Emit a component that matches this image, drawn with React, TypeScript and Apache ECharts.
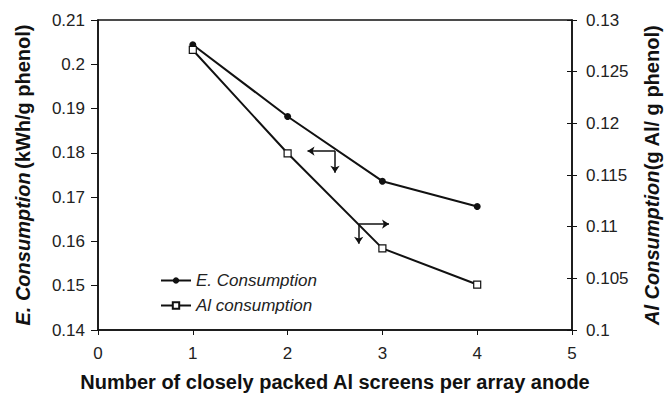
import React, { useEffect, useRef } from "react";
import * as echarts from "echarts";

// Number of closely packed Al screens per array anode
const screens = [1, 2, 3, 4];
// Energy consumption, kWh/g phenol (left axis)
const energyConsumption = [0.2044, 0.1882, 0.1736, 0.1679];
// Aluminium consumption, g Al/g phenol (right axis)
const alConsumption = [0.1271, 0.1171, 0.1079, 0.1044];

// Pointer arrows telling which curve belongs to which axis: [corner, tip]
const energyArrows = [
  [[2.5, 0.1804], [2.21, 0.1804]],
  [[2.5, 0.1804], [2.5, 0.1755]],
];
const alArrows = [
  [[2.75, 0.11025], [3.07, 0.11025]],
  [[2.75, 0.11025], [2.75, 0.10834]],
];

const FONT = "'Liberation Sans', Arial, sans-serif";
const INK = "#111";

export default function App() {
  const ref = useRef<HTMLDivElement>(null);

  useEffect(() => {
    if (!ref.current) return;
    const chart = echarts.init(ref.current, undefined, { renderer: "svg" });

    const axisLabel = { fontFamily: FONT, fontSize: 17, color: "#222" };
    const titleRich = {
      i: { fontFamily: FONT, fontSize: 20, fontWeight: "bold", fontStyle: "italic", color: INK },
      b: { fontFamily: FONT, fontSize: 20, fontWeight: "bold", color: INK },
    };

    chart.setOption({
      animation: false,
      backgroundColor: "#fff",
      grid: {
        left: 98,
        top: 20,
        right: 93,
        bottom: 63,
        show: true,
        borderColor: INK,
        borderWidth: 1.5,
        backgroundColor: "transparent",
      },
      legend: {
        orient: "vertical",
        left: 155,
        top: 267,
        itemGap: 8,
        itemWidth: 30,
        itemHeight: 8,
        textStyle: { fontFamily: FONT, fontSize: 17, fontStyle: "italic", color: "#222" },
        data: ["E. Consumption", "Al consumption"],
      },
      xAxis: {
        type: "value",
        min: 0,
        max: 5,
        interval: 1,
        splitLine: { show: false },
        axisLine: { lineStyle: { color: INK, width: 1.5 } },
        axisTick: { length: 5, lineStyle: { color: INK } },
        axisLabel: { ...axisLabel, margin: 15 },
        name: "Number of closely packed Al screens per array anode",
        nameLocation: "middle",
        nameGap: 42,
        nameTextStyle: { fontFamily: FONT, fontSize: 20, fontWeight: "bold", color: INK },
      },
      yAxis: [
        {
          type: "value",
          position: "left",
          min: 0.14,
          max: 0.21,
          interval: 0.01,
          splitLine: { show: false },
          axisLine: { show: true, lineStyle: { color: INK, width: 1.5 } },
          axisTick: { show: true, length: 7, lineStyle: { color: INK } },
          axisLabel: { ...axisLabel, margin: 13 },
          name: "{i|E. Consumption} {b|(kWh/g phenol)}",
          nameLocation: "middle",
          nameRotate: 90,
          nameGap: 65,
          nameTextStyle: { rich: titleRich },
        },
        {
          type: "value",
          position: "right",
          min: 0.1,
          max: 0.13,
          interval: 0.005,
          splitLine: { show: false },
          axisLine: { show: true, lineStyle: { color: INK, width: 1.5 } },
          axisTick: { show: true, length: 5, lineStyle: { color: INK } },
          axisLabel: { ...axisLabel, margin: 14 },
          name: "{i|Al Consumption}{b|(g Al/ g phenol)}",
          nameLocation: "middle",
          nameRotate: 90,
          nameGap: 70,
          nameTextStyle: { rich: titleRich },
        },
        {
          // inward half of the right-hand ticks
          type: "value",
          position: "right",
          min: 0.1,
          max: 0.13,
          interval: 0.005,
          splitLine: { show: false },
          axisLine: { show: false },
          axisTick: { show: true, inside: true, length: 5, lineStyle: { color: INK } },
          axisLabel: { show: false },
        },
      ],
      series: [
        {
          name: "E. Consumption",
          type: "line",
          yAxisIndex: 0,
          data: screens.map((x, i) => [x, energyConsumption[i]]),
          symbol: "circle",
          symbolSize: 7,
          itemStyle: { color: INK },
          lineStyle: { color: INK, width: 2 },
        },
        {
          name: "Al consumption",
          type: "line",
          yAxisIndex: 1,
          data: screens.map((x, i) => [x, alConsumption[i]]),
          symbol: "rect",
          symbolSize: 7,
          itemStyle: { color: "#fff", borderColor: INK, borderWidth: 1.2 },
          lineStyle: { color: INK, width: 2 },
        },
        {
          type: "lines",
          coordinateSystem: "cartesian2d",
          xAxisIndex: 0,
          yAxisIndex: 0,
          symbol: ["none", "arrow"],
          symbolSize: 7,
          lineStyle: { color: INK, width: 1.5, opacity: 1 },
          data: energyArrows.map((c) => ({ coords: c })),
          silent: true,
        },
        {
          type: "lines",
          coordinateSystem: "cartesian2d",
          xAxisIndex: 0,
          yAxisIndex: 1,
          symbol: ["none", "arrow"],
          symbolSize: 7,
          lineStyle: { color: INK, width: 1.5, opacity: 1 },
          data: alArrows.map((c) => ({ coords: c })),
          silent: true,
        },
      ],
    });

    return () => chart.dispose();
  }, []);

  return (
    <div
      ref={ref}
      style={{ position: "absolute", left: 0, top: 0, width: 670, height: 397 }}
    />
  );
}
